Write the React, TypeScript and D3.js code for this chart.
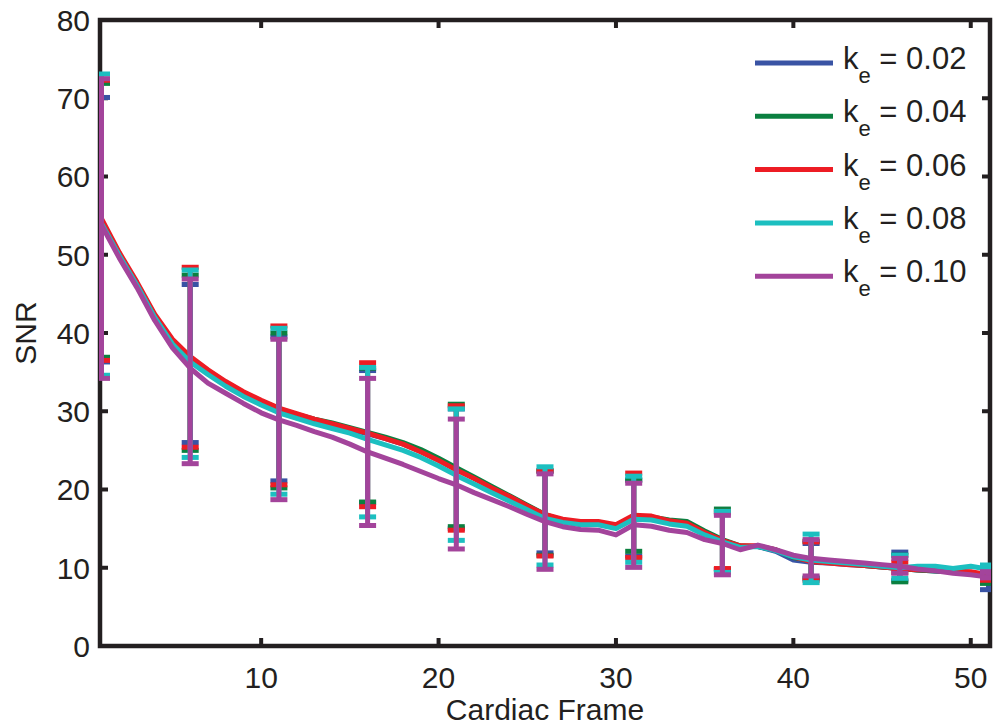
import React from "react";
import * as d3 from "d3";

const FRAMES = [
  1, 2, 3, 4, 5, 6, 7, 8, 9, 10, 11, 12, 13, 14, 15, 16, 17, 18, 19, 20, 21, 22, 23, 24, 25, 26,
  27, 28, 29, 30, 31, 32, 33, 34, 35, 36, 37, 38, 39, 40, 41, 42, 43, 44, 45, 46, 47, 48, 49, 50, 51,
];
const ERR_FRAMES = [1, 6, 11, 16, 21, 26, 31, 36, 41, 46, 51];
const SERIES_LABELS = ["0.02", "0.04", "0.06", "0.08", "0.10"];
const COLORS = ["#3953a4", "#0b8040", "#ed1c24", "#1cbfc0", "#a3449b"];

const SNR_002 = [54.0, 50.0, 46.2, 42.1, 38.9, 36.7, 35.1, 33.6, 32.3, 31.2, 30.2, 29.5, 28.9, 28.3, 27.7, 27.1, 26.5, 25.8, 24.9, 23.8, 22.6, 21.5, 20.3, 19.1, 17.9, 16.7, 16.0, 15.7, 15.7, 15.3, 16.5, 16.4, 15.9, 15.7, 14.5, 13.5, 12.7, 12.7, 12.1, 11.0, 10.7, 10.6, 10.4, 10.3, 10.1, 9.9, 9.7, 9.6, 9.5, 9.3, 8.9];
const SNR_004 = [54.2, 50.1, 46.3, 42.2, 39.0, 36.8, 35.2, 33.7, 32.4, 31.3, 30.3, 29.6, 29.0, 28.5, 27.9, 27.3, 26.7, 26.0, 25.1, 24.0, 22.8, 21.6, 20.4, 19.2, 18.0, 16.8, 16.1, 15.8, 15.8, 15.4, 16.6, 16.5, 16.1, 15.9, 14.7, 13.6, 12.8, 12.7, 12.3, 11.3, 10.9, 10.7, 10.5, 10.3, 10.1, 9.9, 9.7, 9.6, 9.5, 9.3, 8.9];
const SNR_006 = [54.6, 50.3, 46.5, 42.4, 39.2, 37.0, 35.3, 33.8, 32.5, 31.4, 30.4, 29.7, 29.0, 28.4, 27.8, 27.2, 26.5, 25.8, 24.8, 23.7, 22.5, 21.4, 20.2, 19.1, 17.9, 16.8, 16.2, 15.9, 15.9, 15.5, 16.7, 16.6, 16.0, 15.7, 14.5, 13.5, 12.8, 12.8, 12.3, 11.4, 10.8, 10.6, 10.4, 10.3, 10.1, 9.9, 9.75, 9.7, 9.6, 9.5, 9.1];
const SNR_008 = [54.0, 49.9, 46.1, 42.0, 38.6, 36.3, 34.7, 33.2, 31.9, 30.8, 29.8, 29.1, 28.4, 27.8, 27.2, 26.4, 25.7, 25.0, 24.1, 23.0, 21.8, 20.7, 19.6, 18.5, 17.4, 16.3, 15.8, 15.5, 15.5, 15.0, 16.2, 16.1, 15.6, 15.3, 14.2, 13.3, 12.6, 12.7, 12.2, 11.4, 11.0, 10.8, 10.6, 10.4, 10.2, 10.0, 10.2, 10.2, 9.9, 10.2, 9.8];
const SNR_010 = [53.8, 49.6, 45.8, 41.6, 38.1, 35.5, 33.6, 32.3, 31.0, 29.8, 28.9, 28.2, 27.4, 26.7, 25.8, 24.8, 24.0, 23.2, 22.3, 21.4, 20.6, 19.6, 18.7, 17.8, 16.8, 15.9, 15.25, 14.9, 14.8, 14.2, 15.5, 15.3, 14.8, 14.5, 13.6, 13.1, 12.3, 12.9, 12.3, 11.6, 11.2, 11.0, 10.8, 10.6, 10.4, 10.2, 9.85, 9.6, 9.3, 9.1, 8.8];

const HI_002 = [70.1, 46.2, 39.5, 35.2, 30.3, 22.3, 21.2, 17.0, 13.1, 12.0, 9.6];
const LO_002 = [36.3, 26.0, 21.1, 18.3, 15.0, 11.9, 11.5, 9.8, 8.6, 8.4, 7.2];
const HI_004 = [71.9, 47.4, 40.0, 35.5, 30.9, 22.4, 21.2, 17.5, 13.4, 11.6, 9.9];
const LO_004 = [36.9, 25.0, 20.2, 18.4, 15.25, 11.6, 12.1, 9.8, 8.7, 8.2, 8.0];
const HI_006 = [72.3, 48.4, 40.9, 36.2, 30.7, 22.4, 22.1, 17.2, 13.3, 10.7, 9.8];
const LO_006 = [36.5, 25.4, 20.6, 17.8, 14.8, 11.5, 11.3, 9.9, 8.4, 9.4, 8.4];
const HI_008 = [73.1, 48.05, 40.6, 35.6, 30.3, 22.9, 21.7, 17.2, 14.3, 11.6, 10.35];
const LO_008 = [34.6, 24.1, 19.4, 16.5, 13.5, 10.35, 10.7, 9.4, 8.1, 8.65, 8.8];
const HI_010 = [72.5, 46.9, 39.2, 34.2, 29.0, 22.0, 20.8, 16.7, 13.6, 11.2, 9.5];
const LO_010 = [34.2, 23.3, 18.7, 15.4, 12.4, 9.8, 10.05, 9.1, 8.95, 9.3, 8.7];

const X_TICKS = [10, 20, 30, 40, 50];
const Y_TICKS = [0, 10, 20, 30, 40, 50, 60, 70, 80];

const SERIES = [
  { label: SERIES_LABELS[0], color: COLORS[0], values: SNR_002, hi: HI_002, lo: LO_002 },
  { label: SERIES_LABELS[1], color: COLORS[1], values: SNR_004, hi: HI_004, lo: LO_004 },
  { label: SERIES_LABELS[2], color: COLORS[2], values: SNR_006, hi: HI_006, lo: LO_006 },
  { label: SERIES_LABELS[3], color: COLORS[3], values: SNR_008, hi: HI_008, lo: LO_008 },
  { label: SERIES_LABELS[4], color: COLORS[4], values: SNR_010, hi: HI_010, lo: LO_010 },
];

export default function App() {
  const W = 997;
  const H = 725;
  const L = 100, R = 990, T = 20, B = 646;
  const x = d3.scaleLinear().domain([1, 51]).range([L + 1.5, R - 1.5]);
  const y = d3.scaleLinear().domain([0, 80]).range([B, T]);
  const line = d3
    .line<number>()
    .x((_, i) => x(FRAMES[i]))
    .y((d) => y(d));
  const axisColor = "#231f20";
  const font = "'Liberation Sans', Arial, Helvetica, sans-serif";
  const fs = 30;
  const lw = 5;
  const capHalf = 8.5;
  const tickLen = 8;

  return (
    <svg
      width={W}
      height={H}
      viewBox={`0 0 ${W} ${H}`}
      style={{ position: "absolute", left: 0, top: 0, background: "#fff" }}
      fontFamily={font}
    >
      <rect x={0} y={0} width={W} height={H} fill="#fff" />
      <defs>
        <clipPath id="plotclip">
          <rect x={L - 1} y={T} width={R - L + 2} height={B - T} />
        </clipPath>
      </defs>

      {/* axes box */}
      <rect x={L} y={T} width={R - L} height={B - T} fill="none" stroke={axisColor} strokeWidth={4.5} />
      {Y_TICKS.map((t) => (
        <g key={"y" + t} stroke={axisColor} strokeWidth={4}>
          <line x1={L} x2={L + tickLen} y1={y(t)} y2={y(t)} />
          <line x1={R} x2={R - tickLen} y1={y(t)} y2={y(t)} />
        </g>
      ))}
      {X_TICKS.map((t) => (
        <g key={"x" + t} stroke={axisColor} strokeWidth={4}>
          <line x1={x(t)} x2={x(t)} y1={B} y2={B - tickLen} />
          <line x1={x(t)} x2={x(t)} y1={T} y2={T + tickLen} />
        </g>
      ))}

      <g clipPath="url(#plotclip)">
        {SERIES.map((s, si) => (
          <g key={si}>
            <path d={line(s.values) || ""} fill="none" stroke={s.color} strokeWidth={lw} strokeLinejoin="round" />
            {ERR_FRAMES.map((f, j) => {
              const cx = x(f);
              return (
                <g key={j} stroke={s.color} strokeWidth={lw}>
                  <line x1={cx} x2={cx} y1={y(s.hi[j])} y2={y(s.lo[j])} />
                  <line x1={cx - capHalf} x2={cx + capHalf} y1={y(s.hi[j])} y2={y(s.hi[j])} />
                  <line x1={cx - capHalf} x2={cx + capHalf} y1={y(s.lo[j])} y2={y(s.lo[j])} />
                </g>
              );
            })}
          </g>
        ))}
      </g>

      {Y_TICKS.map((t) => (
        <text key={"yl" + t} x={L - 10} y={y(t)} dy="0.36em" textAnchor="end" fontSize={fs} fill={axisColor}>
          {t}
        </text>
      ))}
      {X_TICKS.map((t) => (
        <text key={"xl" + t} x={x(t)} y={B + 42} textAnchor="middle" fontSize={fs} fill={axisColor}>
          {t}
        </text>
      ))}
      <text x={(L + R) / 2} y={H - 5} textAnchor="middle" fontSize={fs} fill={axisColor}>
        Cardiac Frame
      </text>
      <text
        transform={`translate(36, ${(T + B) / 2}) rotate(-90)`}
        textAnchor="middle"
        fontSize={fs}
        fill={axisColor}
      >
        SNR
      </text>

      {/* legend */}
      {SERIES.map((s, i) => {
        const ly = 63 + i * 53.3;
        return (
          <g key={"lg" + i}>
            <line x1={755} x2={833} y1={ly} y2={ly} stroke={s.color} strokeWidth={lw} />
            <text x={843} y={ly + 6} fontSize={31} fill={axisColor}>
              k
              <tspan fontSize={22} dy={14}>e</tspan>
              <tspan dy={-14}>{` = ${s.label}`}</tspan>
            </text>
          </g>
        );
      })}
    </svg>
  );
}
